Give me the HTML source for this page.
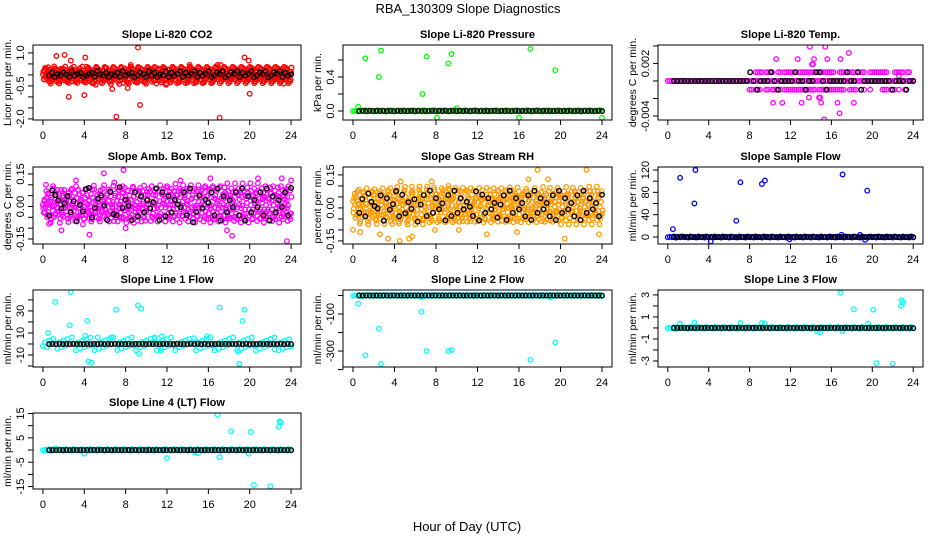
<!DOCTYPE html>
<html><head><meta charset="utf-8"><style>
html,body{margin:0;padding:0;background:#fff;}
svg{display:block;font-family:"Liberation Sans",sans-serif;}
</style></head><body>
<svg id="chart" width="936" height="540" viewBox="0 0 936 540">
<rect width="936" height="540" fill="#fff"/>
<text x="468" y="13" text-anchor="middle" font-size="13">RBA_130309  Slope Diagnostics</text>
<text x="467" y="531" text-anchor="middle" font-size="13">Hour of Day (UTC)</text>
</svg>
<script>
// ---- data (digit strings: each char is a value level 0-9, or '.' = no point) ----
const xTicks = [0,4,8,12,16,20,24];
const xTickLabels = ["0","4","8","12","16","20","24"];

const p1Color = "52738491603729581460382751946207381594620738519462093817264051938274605192873460159283746019273845610293847561092384756102938475619203847561928304756129384705612938470561293847056129384705162938470516293847051629384705162938740516293874051629387405162938740516293874051629387405162938740516";
const p1Color2 = "71946283051749263805174926380517492638051749263805174962380517496238051749623805174962380517946238051794623805179462380517946238051794623850179462385017946238501794623850179462385017946238501794623850179462385071946238507194623850719462385071946238507194623850719462385071946238507194623850719";
const p1Black = "46354653745634563754635463745634653746354736457364573645734657346573645734657346573645";
const p1OutX = [1.3,2.1,2.5,2.7,4.1,4.0,4.8,5.1,6.7,7.1,7.8,8.2,9.2,9.4,11.9,17.1,16.9,17.2,19.5,19.9,20.0,14.2,23.3,8.5];
const p1OutY = [0.86,0.91,-1.0,0.65,0.79,-0.92,-0.38,-0.45,-0.64,-1.9,-0.37,-0.6,1.24,-1.37,-0.45,-1.95,0.45,0.45,0.79,0.65,-0.86,0.45,-0.4,0.45];

const p2Color = "4536547364537465374635647356473564735647536475364753647536475364735647536475364753647536475364735647536475364735647536475";
const p2Black = "45454545454545454545454545454545454545454545454545454545454545454545454";
const p2OutX = [1.2,2.5,2.7,6.7,7.1,9.2,9.5,17.1,19.5,8.1,16.0,24.0,0.5,10.0];
const p2OutY = [0.62,0.40,0.71,0.20,0.64,0.56,0.67,0.73,0.48,-0.08,-0.08,-0.08,0.05,0.03];

// P3 levels: a=-3 b=-2 c=-1 d=0 e=1 f=2 g=3 h=4 (x0.001)
const p3Main  = "ddddddddddddddddddddddddddddddddddddddddddddddddddddddddddddddddddddddddddddddddddddddddddddddddddddddddddddddddddddddddd";
const p3Upper = "...........................................eeee.eeee..ee.eeeeee.eeeeeeeeeeeeeeeeee..eeeeeeee.eeee..eeeeeeeee...eeeee.ee.";
const p3Lower = "........................................cc.ccc..cc.ccccc.cccccccccccccccc.ccccccccccccc..cccc...c..c.....ccc.ccc.c..c....";
const p3Black = "ddddddddddddddddddddddedcdddedcddddeddcddeedcdddddeddecddddddddcdddcdd";
const p3OutX = [10.6,12.7,13.9,14.3,15.4,15.6,16.9,17.7,14.1,14.2,10.3,11.2,13.1,14.8,15.0,16.6,18.2,16.8,15.3,22.6,13.8,14.9];
const p3OutY = [0.0025,0.0025,0.0039,0.0025,0.0039,0.0025,0.0025,0.0032,0.0019,0.0019,-0.0025,-0.0025,-0.0025,-0.0019,-0.0025,-0.0025,-0.0025,-0.0037,-0.0044,0.0006,-0.0019,-0.0019];

const p4Color = "53648275316492735846153728465317284563192847563124857362418593627451836294573618254937261845379264158372649153827465182937465381927456318294756318927453618297453168294735618294735168294753618924735168924735618924753169824735619824753169824357169824357619824357169284357619283457169283457619283";
const p4Color2 = "46357284617395284637192846537184629538471926358417295364817293546182739564182937546128397546218397456213897452613897456213879456231879452631879546231879542631789542637189542367189452361789452376189452371689452371698452371968452317968452317698425317968425371968425371698425317698452317689452317";
const p4Black = "28764573615389246751832946518273645918273654829137465829173648291736482917364829";
const p4OutX = [5.9,7.8,0.3,4.5,23.6,13.3,16.2,20.8,23.1,24.0,18.3,17.8,1.8,8.0,0.6,6.9,3.2];
const p4OutY = [0.153,0.168,0.1,-0.13,-0.16,0.12,0.13,0.13,0.13,0.12,-0.135,-0.11,-0.11,-0.1,-0.08,0.11,0.12];

const p5Color = "64827359146283759412638579241368257941362857941326859714236589741236598471235698471253698417253964817253946817259346817295346187295436187294536187249536817249563817294563187294653187249653178249635178246935178246395178246359718246395718264395781264359781264395871263495871263459871264359871263";
const p5Color2 = "37582946137592846137529486317529468317254968137254896137245896312745896321745986321754986327154986372154896372154986732154896732145896732148596732148569732184569732185469732815469723815496723815946723851946728351946728359146728359416728539416782539416785239416785293416785294316785294361785294";
const p5Black = "37286548174592836471582937461829374652918374625819374628193746281937462819374628";
const p5OutX = [17.8,22.5,18.8,4.6,7.6,9.2,0.0,0.7,3.4,4.5,5.4,5.7,2.6,20.4,23.7,12.9,15.8,7.9,10.2,16.9];
const p5OutY = [0.173,0.173,0.13,0.12,0.12,0.1,-0.1,-0.11,-0.14,-0.15,-0.14,-0.13,-0.12,-0.14,-0.12,-0.12,-0.11,-0.1,-0.1,0.13];

const p6Color = "4546354645364536453645364536453645364536453645364536453645364536453645364536453645364536453645364536453645364536453645364";
const p6Black = "45454545454545454545454545454545454545454545454545454545454545454545454";
const p6OutX = [0.5,1.2,2.6,2.7,6.7,7.1,9.2,9.5,17.1,19.5,4.2,11.9,19.3,17.0,18.8];
const p6OutY = [14,106,60,120,29,98,95,101,112,83,-8,-4,-5,4,4];

const p7Color = "3627485162738495061728394051627384950617283940526374859061728394052637485906172839405162738495061728394051627384950617283";
const p7Black = "45454545454545454545454545454545454545454545454545454545454545454545454";
const p7OutX = [0.5,1.2,2.6,2.7,4.1,4.3,4.4,4.7,7.1,9.2,9.5,9.3,11.4,17.1,19.3,19.5,18.9,19.0,22.4,15.9,11.5,10.8,5.3,6.6];
const p7OutY = [10,38,17,47,7.5,21,-16,-17,31,35,32,-9,-6,33,21,31,-7,-18,-5,7,7,6,6,6];

const p8Color = "4546354645364536453645364536453645364536453645364536453645364536453645364536453645364536453645364536453645364536453645364";
const p8Black = "45454545454545454545454545454545454545454545454545454545454545454545454";
const p8OutX = [0.5,1.2,2.5,2.7,6.6,7.1,9.2,9.5,17.1,19.5,19.0,6.6];
const p8OutY = [-44,-323,-179,-369,-88,-300,-300,-295,-347,-253,-10,-8];

const p9Color = "4546354645364536453645364536453645364536453645364536453645364536453645364536453645364536453645364536453645364536453645364";
const p9Black = "45454545454545454545454545454545454545454545454545454545454545454545454";
const p9OutX = [1.2,2.6,7.1,9.2,9.5,14.6,14.9,17.1,16.9,18.2,20.1,19.6,20.4,22.0,22.8,22.9,23.0];
const p9OutY = [0.4,0.5,0.45,0.45,0.4,-0.3,-0.4,-0.3,3.2,1.7,1.65,0.4,-3.2,-3.25,2.0,2.5,2.3];

const p10Color = "4546354645364536453645364536453645364536453645364536453645364536453645364536453645364536453645364536453645364536453645364";
const p10Black = "45454545454545454545454545454545454545454545454545454545454545454545454";
const p10OutX = [16.9,18.2,20.1,22.8,22.9,23.0,20.4,22.0,4.0,12.0,17.1,19.9,14.7,15.0,1.2];
const p10OutY = [14.4,7.7,7.4,9.5,11.7,11.3,-14.4,-14.9,-1.5,-3.3,-3,-1.5,-1,-1.3,0.6];

const p1Ticks=[1.0,0.5,0.0,-0.5,-1.0,-1.5,-2.0], p1TickLabels=["1.0","","","-0.5","","","-2.0"];
const p2Ticks=[0.0,0.2,0.4,0.6], p2TickLabels=["0.0","","0.4",""];
const p3Ticks=[0.004,0.002,0,-0.002,-0.004], p3TickLabels=["","0.002","","","-0.004"];
const p4Ticks=[0.15,0.10,0.05,0,-0.05,-0.10,-0.15], p4TickLabels=["0.15","","","0.00","","","-0.15"];
const p5Ticks=[0.15,0.10,0.05,0,-0.05,-0.10,-0.15], p5TickLabels=["0.15","","","0.00","","","-0.15"];
const p6Ticks=[120,100,80,60,40,20,0], p6TickLabels=["120","","80","","40","","0"];
const p7Ticks=[40,30,20,10,0,-10,-20], p7TickLabels=["","30","","10","","-10",""];
const p8Ticks=[0,-100,-200,-300,-400], p8TickLabels=["","-100","","-300",""];
const p9Ticks=[3,2,1,0,-1,-2,-3], p9TickLabels=["3","","1","","-1","","-3"];
const p10Ticks=[15,10,5,0,-5,-10,-15], p10TickLabels=["15","","5","","-5","","-15"];

// ---- layout ----
const cols=[[33,301],[343,612],[658,923]];
const rows=[[45,120],[167,244],[290,367],[413,489]];
const SVGNS="http://www.w3.org/2000/svg";
const svg=document.getElementById('chart');
function mk(tag,attrs,parent){const e=document.createElementNS(SVGNS,tag);for(const k in attrs)e.setAttribute(k,attrs[k]);(parent||svg).appendChild(e);return e;}
// coarse level from each char, fine jitter from the following char
function levels(str,scale){const a=str.split('');return a.map((c,i)=>{if(c==='.')return null;const n=a[(i+1)%a.length];const f=n==='.'?4.5:parseInt(n,10);return (parseInt(c,10)-4.5+(f-4.5)/10)*scale;});}
function letters(str){return str.split('').map(c=>c==='.'?null:(c.charCodeAt(0)-100)*0.001);}
function hoursFor(n,off){const h=[];for(let i=0;i<n;i++)h.push(i*24/(n-1)+(off||0));return h;}
function blackHours(n){const h=[];for(let i=0;i<n;i++)h.push(0.6+i*(23.4/(n-1)));return h;}

const panels=[
 {id:'li820-co2',title:'Slope Li-820 CO2',ylab:'Licor ppm per min.',c:0,r:0,ylim:[-2.05,1.36],col:'#ff0000',
  series:()=>[[hoursFor(p1Color.length),levels(p1Color,0.085)],[hoursFor(p1Color2.length,0.04),levels(p1Color2,0.07)],[p1OutX,p1OutY]],black:()=>[blackHours(p1Black.length),levels(p1Black,0.07)],ticks:p1Ticks,tl:p1TickLabels},
 {id:'li820-pressure',title:'Slope Li-820 Pressure',ylab:'kPa per min.',c:1,r:0,ylim:[-0.106,0.776],col:'#00ff00',
  series:()=>[[hoursFor(p2Color.length),levels(p2Color,0.004)],[p2OutX,p2OutY]],black:()=>[blackHours(p2Black.length),levels(p2Black,0.002)],ticks:p2Ticks,tl:p2TickLabels},
 {id:'li820-temp',title:'Slope Li-820 Temp.',ylab:'degrees C per min.',c:2,r:0,ylim:[-0.00446,0.00411],col:'#ff00ff',
  series:()=>{const h=hoursFor(p3Main.length);return [[h,letters(p3Main)],[h,letters(p3Upper)],[h,letters(p3Lower)],[p3OutX,p3OutY]];},black:()=>[blackHours(p3Black.length),letters(p3Black)],ticks:p3Ticks,tl:p3TickLabels},
 {id:'amb-box-temp',title:'Slope Amb. Box Temp.',ylab:'degrees C per min.',c:0,r:1,ylim:[-0.173,0.182],col:'#ff00ff',
  series:()=>[[hoursFor(p4Color.length),levels(p4Color,0.022)],[hoursFor(p4Color2.length,0.04),levels(p4Color2,0.018)],[p4OutX,p4OutY]],black:()=>[blackHours(p4Black.length),levels(p4Black,0.02)],ticks:p4Ticks,tl:p4TickLabels},
 {id:'gas-stream-rh',title:'Slope Gas Stream RH',ylab:'percent per min.',c:1,r:1,ylim:[-0.164,0.186],col:'#ff9a00',
  series:()=>[[hoursFor(p5Color.length),levels(p5Color,0.02)],[hoursFor(p5Color2.length,0.04),levels(p5Color2,0.017)],[p5OutX,p5OutY]],black:()=>[blackHours(p5Black.length),levels(p5Black,0.018)],ticks:p5Ticks,tl:p5TickLabels},
 {id:'sample-flow',title:'Slope Sample Flow',ylab:'ml/min per min.',c:2,r:1,ylim:[-12.5,125.4],col:'#0000ff',
  series:()=>[[hoursFor(p6Color.length),levels(p6Color,0.8)],[p6OutX,p6OutY]],black:()=>[blackHours(p6Black.length),levels(p6Black,0.2)],ticks:p6Ticks,tl:p6TickLabels},
 {id:'line1-flow',title:'Slope Line 1 Flow',ylab:'ml/min per min.',c:0,r:2,ylim:[-20.9,49],col:'#00ffff',
  series:()=>[[hoursFor(p7Color.length),levels(p7Color,1.3)],[p7OutX,p7OutY]],black:()=>[blackHours(p7Black.length),levels(p7Black,0.2)],ticks:p7Ticks,tl:p7TickLabels},
 {id:'line2-flow',title:'Slope Line 2 Flow',ylab:'ml/min per min.',c:1,r:2,ylim:[-386,29.7],col:'#00ffff',
  series:()=>[[hoursFor(p8Color.length),levels(p8Color,2.5)],[p8OutX,p8OutY]],black:()=>[blackHours(p8Black.length),levels(p8Black,0.5)],ticks:p8Ticks,tl:p8TickLabels},
 {id:'line3-flow',title:'Slope Line 3 Flow',ylab:'ml/min per min.',c:2,r:2,ylim:[-3.55,3.45],col:'#00ffff',
  series:()=>[[hoursFor(p9Color.length),levels(p9Color,0.06)],[p9OutX,p9OutY]],black:()=>[blackHours(p9Black.length),levels(p9Black,0.02)],ticks:p9Ticks,tl:p9TickLabels},
 {id:'line4-flow',title:'Slope Line 4 (LT) Flow',ylab:'ml/min per min.',c:0,r:3,ylim:[-16,15.2],col:'#00ffff',
  series:()=>[[hoursFor(p10Color.length),levels(p10Color,0.25)],[p10OutX,p10OutY]],black:()=>[blackHours(p10Black.length),levels(p10Black,0.06)],ticks:p10Ticks,tl:p10TickLabels}
];

const defs=mk('defs',{});
panels.forEach((p,pi)=>{
  const [L,R]=cols[p.c],[T,B]=rows[p.r];
  const cp=mk('clipPath',{id:'clip'+pi},defs);
  mk('rect',{x:L,y:T,width:R-L,height:B-T},cp);
  const xs=v=>L+(v+0.96)/25.92*(R-L);
  const ys=v=>B-(v-p.ylim[0])/(p.ylim[1]-p.ylim[0])*(B-T);
  const g=mk('g',{});
  
  
  const pts=mk('g',{fill:'none','stroke-width':'1.3','clip-path':`url(#clip${pi})`},g);
  
  
  p.series().forEach(([hx,hy])=>{
    for(let i=0;i<hx.length;i++){ if(hy[i]===null||hy[i]===undefined)continue;
      const c=mk('circle',{cx:xs(hx[i]).toFixed(1),cy:ys(hy[i]).toFixed(1),r:'2.3',stroke:p.col},pts);
      
      
    }
  });
  const [bx,by]=p.black();
  const bg=mk('g',{fill:'none','stroke-width':'1.4',stroke:'#000','clip-path':`url(#clip${pi})`},g);
  
  
  for(let i=0;i<bx.length;i++){ if(by[i]===null||by[i]===undefined)continue;
    const c=mk('circle',{cx:xs(bx[i]).toFixed(1),cy:ys(by[i]).toFixed(1),r:'2.3'},bg);
    
    
  }
  const box=mk('rect',{x:L,y:T,width:R-L,height:B-T,fill:'none',stroke:'#000','stroke-width':'1'},g);
  
  
  const t=mk('text',{x:(L+R)/2,y:T-7,'text-anchor':'middle','font-size':'11','font-weight':'bold'},g);
  t.textContent=p.title;
  
  
  const xa=mk('g',{stroke:'#000','stroke-width':'1'},g);
  
  
  mk('line',{x1:xs(xTicks[0]),x2:xs(xTicks[xTicks.length-1]),y1:B,y2:B},xa);
  xTicks.forEach((v,i)=>{
    mk('line',{x1:xs(v),x2:xs(v),y1:B,y2:B+5},xa);
    const tx=mk('text',{x:xs(v),y:B+19,'text-anchor':'middle','font-size':'11',stroke:'none',fill:'#000'},xa);
    tx.textContent=xTickLabels[i];
    
    
  });
  const ya=mk('g',{stroke:'#000','stroke-width':'1'},g);
  
  
  mk('line',{x1:L,x2:L,y1:ys(p.ticks[0]),y2:ys(p.ticks[p.ticks.length-1])},ya);
  p.ticks.forEach((v,i)=>{
    const y=ys(v);
    mk('line',{x1:L-5,x2:L,y1:y,y2:y},ya);
    if(p.tl[i]){
      const tx=mk('text',{x:L-9,y:y,'text-anchor':'middle','font-size':'11',stroke:'none',fill:'#000',transform:`rotate(-90 ${L-9} ${y})`},ya);
      tx.textContent=p.tl[i];
      
      
    }
  });
  const yl=mk('text',{x:L-22,y:(T+B)/2,'text-anchor':'middle','font-size':'10.5',transform:`rotate(-90 ${L-22} ${(T+B)/2})`},g);
  yl.textContent=p.ylab;
  
  
});
</script>
</body></html>
